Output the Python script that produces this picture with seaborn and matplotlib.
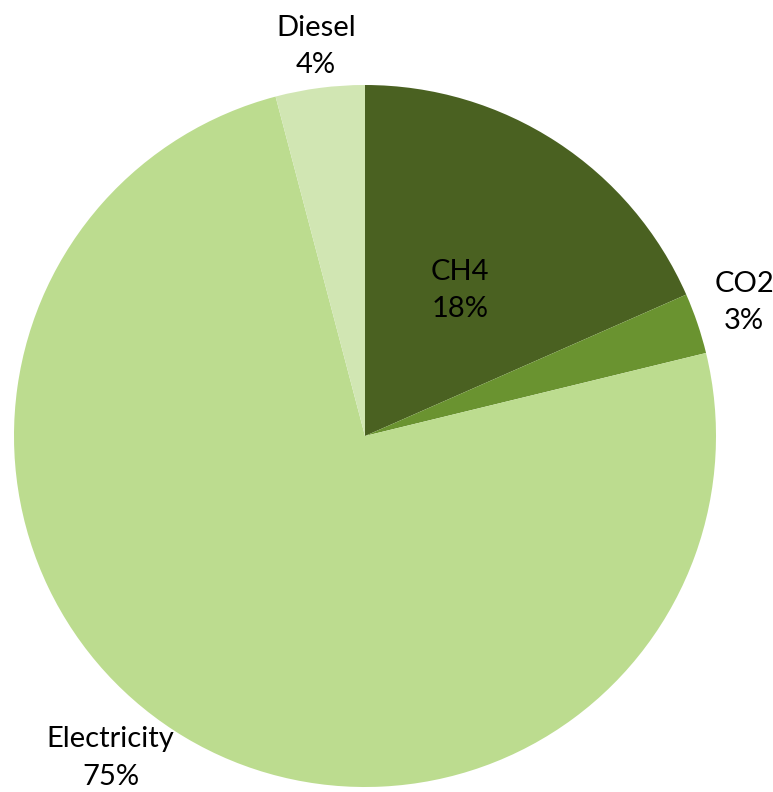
import matplotlib
matplotlib.use("Agg")
import matplotlib.pyplot as plt
import seaborn as sns

categories = ["CH4", "CO2", "Electricity", "Diesel"]
values = [18.4, 2.8, 74.7, 4.1]
colors = ["#4a6121", "#6a9330", "#bcdc8f", "#d1e6b3"]
# label anchor points (data coords, radius = 1)
label_pos = [(0.27, 0.415), (1.08, 0.38), (-0.725, -0.918), (-0.14, 1.11)]

sns.set_theme(style="white")
plt.rcParams['font.family'] = ['Lato', 'DejaVu Sans']

fig = plt.figure(figsize=(7.73, 7.92), dpi=100)
ax = fig.add_axes([0, 0, 1, 1])
ax.pie(values, colors=colors, startangle=90, counterclock=False,
       radius=1.0, wedgeprops=dict(linewidth=0))
total = sum(values)
for cat, v, (x, y) in zip(categories, values, label_pos):
    ax.text(x, y, f"{cat}\n{round(v / total * 100)}%", ha="center", va="center",
            fontsize=21, linespacing=1.55, color="black")
ax.set_xlim(-365 / 351, (773 - 365) / 351)
ax.set_ylim((436 - 792) / 351, 436 / 351)
ax.axis("off")
fig.savefig("out.png", dpi=100)
